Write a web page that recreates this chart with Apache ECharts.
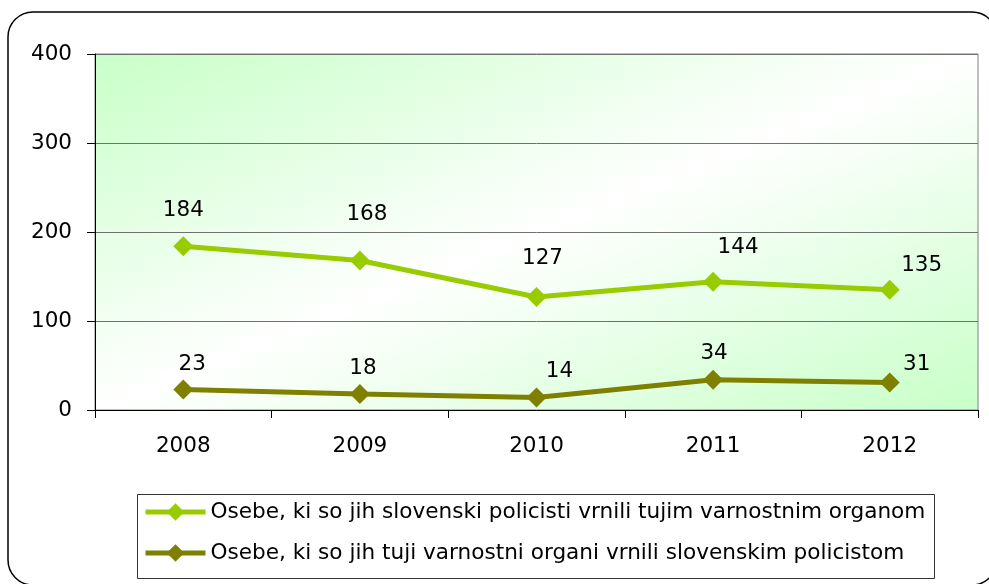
<!DOCTYPE html>
<html>
<head>
<meta charset="utf-8">
<script src="https://cdn.jsdelivr.net/npm/echarts@6/dist/echarts.min.js"></script>
<style>
  html, body { margin: 0; padding: 0; background: #fff; }
  #chart { width: 989px; height: 584px; }
</style>
</head>
<body>
<div id="chart"></div>
<script>
  // podatki
  var years = ['2008', '2009', '2010', '2011', '2012'];
  var vrnjeniTujim = [184, 168, 127, 144, 135];
  var vrnjeniNasim = [23, 18, 14, 34, 31];
  var seriesNames = [
    'Osebe, ki so jih slovenski policisti vrnili tujim varnostnim organom',
    'Osebe, ki so jih tuji varnostni organi vrnili slovenskim policistom'
  ];
  var yTicks = { min: 0, max: 400, step: 100 };

  // odmiki oznak (kot v excelu)
  var labelShift1 = [[0, -36], [7, -46], [6, -39], [25, -34], [32, -24]];
  var labelShift2 = [[9, -25], [3, -26], [23, -26], [1, -26], [27, -18]];

  var FONT = 'DejaVu Sans';

  function withLabels(values, shifts) {
    return values.map(function (v, i) {
      return { value: v, label: { offset: shifts[i] } };
    });
  }

  function lineSeries(name, color, values, shifts) {
    return {
      name: name,
      type: 'line',
      data: withLabels(values, shifts),
      symbol: 'diamond',
      symbolSize: 20,
      itemStyle: { color: color },
      lineStyle: { color: color, width: 5 },
      label: {
        show: true,
        position: 'inside',
        align: 'center',
        verticalAlign: 'middle',
        color: '#000',
        fontFamily: FONT,
        fontSize: 21.5
      },
      animation: false
    };
  }

  var chart = echarts.init(document.getElementById('chart'));
  chart.setOption({
    backgroundColor: '#fff',
    textStyle: { fontFamily: FONT },
    graphic: [
      {
        type: 'rect',
        shape: { x: 8, y: 12, width: 989, height: 573, r: 25 },
        style: { fill: 'none', stroke: '#000', lineWidth: 1.5 },
        z: -1
      },
      {
        type: 'rect',
        shape: { x: 137.5, y: 494.5, width: 797, height: 84 },
        style: { fill: '#fff', stroke: '#333', lineWidth: 1 },
        z: 0
      }
    ],
    grid: {
      left: 95, right: 11, top: 54, bottom: 174,
      show: true,
      borderColor: '#808080',
      borderWidth: 1,
      backgroundColor: {
        type: 'linear', global: true,
        x: 95, y: 54, x2: 342, y2: 666,
        colorStops: [
          { offset: 0, color: '#c8ffc8' },
          { offset: 0.5, color: '#ffffff' },
          { offset: 1, color: '#c8ffc8' }
        ]
      }
    },
    legend: {
      orient: 'vertical',
      left: 135, top: 493,
      padding: [8, 8, 12, 8],
      itemWidth: 60,
      itemHeight: 22,
      itemGap: 19,
      lineStyle: { width: 5 },
      textStyle: { color: '#000', fontFamily: FONT, fontSize: 21.6 },
      data: seriesNames,
      z: 5
    },
    xAxis: {
      type: 'category',
      data: years,
      boundaryGap: true,
      axisLine: { lineStyle: { color: '#000', width: 1 } },
      axisTick: { show: true, length: 8, lineStyle: { color: '#000' } },
      axisLabel: { color: '#000', fontFamily: FONT, fontSize: 21.5, margin: 25 },
      splitLine: { show: false }
    },
    yAxis: {
      type: 'value',
      min: yTicks.min, max: yTicks.max, interval: yTicks.step,
      axisLine: { show: true, lineStyle: { color: '#000', width: 1 } },
      axisTick: { show: true, length: 8, lineStyle: { color: '#000' } },
      axisLabel: { color: '#000', fontFamily: FONT, fontSize: 21.5, margin: 23 },
      splitLine: { show: true, lineStyle: { color: '#707070', width: 1 } }
    },
    series: [
      lineSeries(seriesNames[0], '#99cc00', vrnjeniTujim, labelShift1),
      lineSeries(seriesNames[1], '#808000', vrnjeniNasim, labelShift2)
    ]
  });
</script>
</body>
</html>
